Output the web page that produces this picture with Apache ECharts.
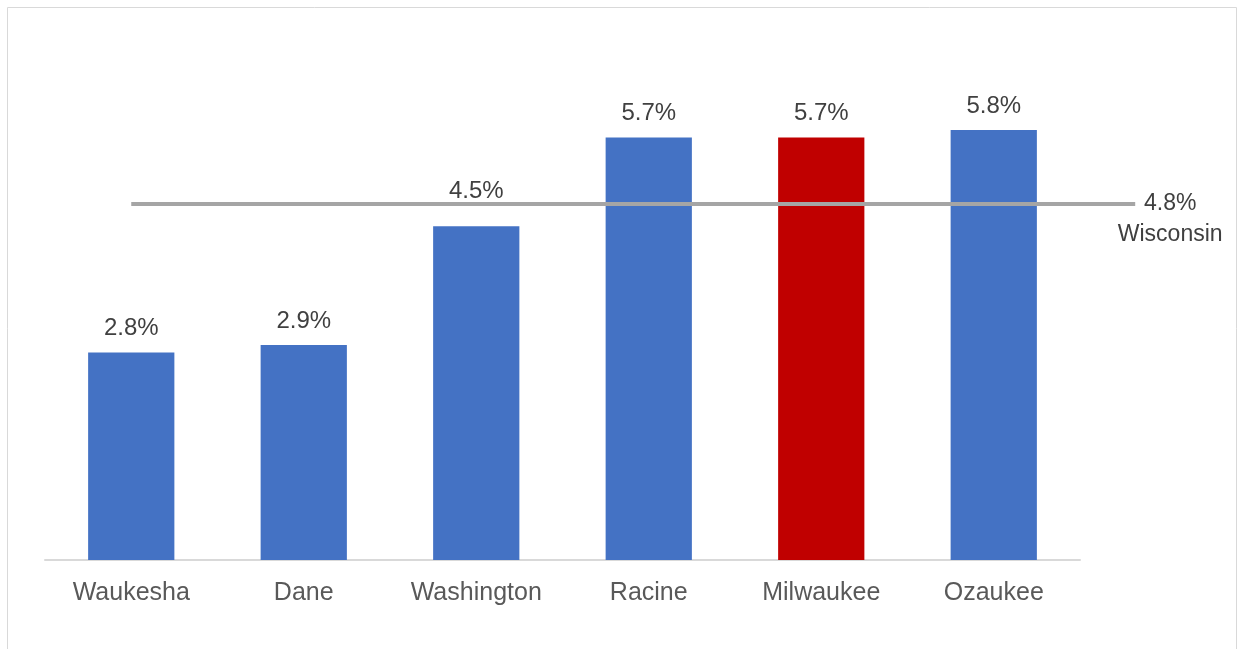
<!DOCTYPE html>
<html><head><meta charset="utf-8">
<script src="https://cdn.jsdelivr.net/npm/echarts@6/dist/echarts.min.js"></script>
<style>html,body{margin:0;padding:0;background:#fff}#c{width:1244px;height:649px}</style>
</head><body><div id="c"></div>
<script>
const categories = ['Waukesha', 'Dane', 'Washington', 'Racine', 'Milwaukee', 'Ozaukee'];
const values = [2.8, 2.9, 4.5, 5.7, 5.7, 5.8];
const highlight = 'Milwaukee';
const stateName = 'Wisconsin';
const stateValue = 4.8;

const chart = echarts.init(document.getElementById('c'));
const font = 'Liberation Sans, Arial, sans-serif';
const lineEnd = 5.82;
chart.setOption({
  animation: false,
  graphic: [{type: 'rect', shape: {x: 7.5, y: 7.5, width: 1229, height: 700}, style: {fill: 'none', stroke: '#d9d9d9', lineWidth: 1}, z: -1}],
  grid: [
    {left: 45, right: 164, top: 41, bottom: 89},
    {left: 45, right: 1244 - 45 - 172.5 * (lineEnd + 0.5), top: 41, bottom: 89}
  ],
  xAxis: [
    {type: 'category', data: categories, gridIndex: 0, axisTick: {show: false},
     axisLine: {lineStyle: {color: '#d9d9d9', width: 2}},
     axisLabel: {color: '#595959', fontSize: 25, fontFamily: font, margin: 21}},
    {type: 'value', gridIndex: 1, min: -0.5, max: lineEnd, show: false, splitLine: {show: false}}
  ],
  yAxis: [
    {type: 'value', gridIndex: 0, min: 0, max: 7, show: false, splitLine: {show: false}},
    {type: 'value', gridIndex: 1, min: 0, max: 7, show: false, splitLine: {show: false}}
  ],
  series: [
    {type: 'bar', barWidth: '50%', z: 2,
     data: values.map((v, i) => {
       const d = {value: v, itemStyle: {color: categories[i] === highlight ? '#C00000' : '#4472C4'}};
       if (categories[i] === 'Washington') d.label = {distance: 23};
       return d;
     }),
     label: {show: true, position: 'top', distance: 12, color: '#404040', fontSize: 24, fontFamily: font,
             formatter: p => p.value.toFixed(1) + '%'}},
    {type: 'line', xAxisIndex: 1, yAxisIndex: 1, clip: false, symbol: 'none', z: 4,
     data: [[0, stateValue], [lineEnd, stateValue]],
     lineStyle: {color: '#A5A5A5', width: 4},
     endLabel: {show: true, formatter: stateValue.toFixed(1) + '%\n' + stateName, align: 'center',
                distance: 0, offset: [35, 15], color: '#404040', fontSize: 23, lineHeight: 31, fontFamily: font}}
  ]
});
</script></body></html>
